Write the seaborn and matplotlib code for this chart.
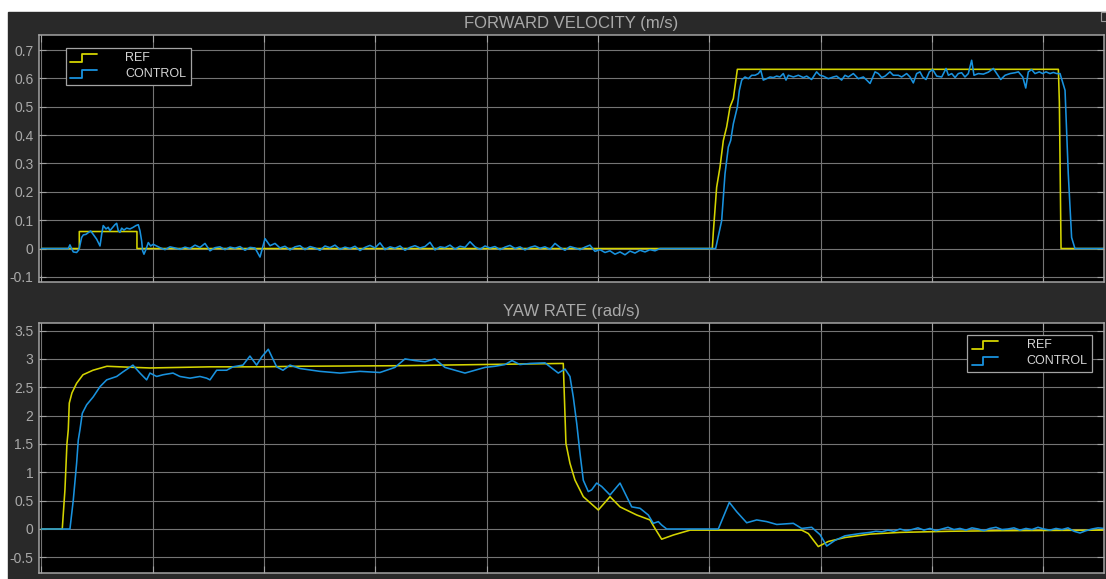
import numpy as np
import pandas as pd
import matplotlib
matplotlib.use("Agg")
import matplotlib.pyplot as plt
import seaborn as sns
from matplotlib.legend_handler import HandlerBase
from matplotlib.lines import Line2D
from matplotlib.patches import Rectangle

# ---------------------------------------------------------------- data
SIGNALS = ["REF", "CONTROL"]
COLORS = {"REF": "#d4d400", "CONTROL": "#1992de"}

# Forward velocity reference (time s, m/s)
vel_ref_t = [0.0, 3.40, 3.40, 8.58, 8.58, 60.27, 60.36, 60.66, 60.96, 61.26,
             61.56, 61.86, 62.16, 62.52, 91.36, 91.45, 91.60, 95.6]
vel_ref_v = [0.0, 0.0, 0.060, 0.060, 0.0, 0.0, 0.057, 0.216, 0.287, 0.381,
             0.429, 0.499, 0.529, 0.632, 0.632, 0.517, 0.0, 0.0]

# Forward velocity measured: first pulse
vel_ctl_a_t = [0.0, 2.29, 2.41, 2.56, 2.71, 2.86, 3.16, 3.37, 3.61, 3.76, 4.00,
               4.20, 4.42, 4.65, 4.96, 5.26, 5.41, 5.55, 5.80, 6.00, 6.15, 6.40,
               6.60, 6.76, 6.90, 7.05, 7.21, 7.41, 7.65, 7.95, 8.25, 8.49, 8.70,
               8.85, 9.00, 9.09, 9.21, 9.36, 9.60, 9.81, 10.04, 10.35]
vel_ctl_a_v = [0.0, 0.0, 0.000, 0.013, 0.000, -0.012, -0.014, -0.004, 0.039,
               0.048, 0.050, 0.056, 0.062, 0.050, 0.033, 0.009, 0.050, 0.081,
               0.069, 0.075, 0.063, 0.075, 0.084, 0.089, 0.063, 0.057, 0.072,
               0.065, 0.072, 0.069, 0.075, 0.081, 0.084, 0.063, 0.027, -0.008,
               -0.020, -0.006, 0.021, 0.009, 0.015, 0.009]

# Forward velocity measured: idle stretch (10.65 s .. 55.57 s)
vel_ctl_idle_start, vel_ctl_idle_end = 10.65, 55.57
vel_ctl_idle_v = [
    0.003, -0.004, 0.006, 0.002, -0.003, 0.005, 0.000, 0.012, 0.004, 0.018,
    -0.008, 0.003, 0.006, -0.004, 0.005, 0.001, 0.007, -0.006, 0.004, 0.002,
    -0.030, 0.035, 0.010, 0.018, 0.002, 0.008, -0.005, 0.006, 0.010, -0.004,
    0.007, 0.002, -0.006, 0.009, 0.003, 0.012, -0.003, 0.005, 0.000, 0.008,
    -0.007, 0.004, 0.011, 0.002, 0.020, -0.004, 0.006, 0.001, 0.009, -0.006,
    0.004, 0.010, 0.002, 0.007, 0.022, -0.005, 0.006, 0.003, 0.012, -0.002,
    0.008, 0.004, 0.024, 0.006, -0.003, 0.009, 0.002, 0.007, -0.004, 0.005,
    0.011, 0.000, 0.006, -0.005, 0.004, 0.009, 0.001, 0.006, -0.003, 0.018,
    0.004, -0.006, 0.007, 0.002, -0.004, 0.005, 0.012, -0.010, -0.004, -0.014,
    -0.008, -0.020, -0.012, -0.022, -0.009, -0.016, -0.006, -0.012, -0.004,
    -0.008, 0.000]

# Forward velocity measured: run
vel_ctl_b_t = [55.75, 60.27, 60.57, 61.11, 61.41, 61.71, 61.92, 62.16, 62.52,
               62.70, 62.91, 63.21, 63.51, 63.81, 64.11, 64.41, 64.62, 64.85,
               65.15, 65.45, 65.75, 66.05, 66.35, 66.65, 66.89, 67.10, 67.55,
               68.00, 68.45, 68.75, 69.19, 69.64, 69.94, 70.24, 70.69, 71.14,
               71.44, 71.89, 72.19, 72.49, 72.94, 73.39, 73.84, 74.14, 74.44,
               74.89, 75.19, 75.49, 75.79, 76.23, 76.53, 76.98, 77.28, 77.73,
               78.03, 78.33, 78.63, 78.93, 79.17, 79.47, 79.77, 80.07, 80.43,
               80.88, 81.27, 81.48, 81.78, 82.08, 82.37, 82.67, 82.97, 83.27,
               83.57, 83.78, 84.17, 84.62, 85.07, 85.52, 85.82, 86.18, 86.57,
               87.02, 87.47, 87.77, 88.16, 88.43, 88.66, 88.96, 89.26, 89.65,
               89.95, 90.25, 90.61, 90.91, 91.21, 91.51, 91.96, 92.25, 92.55,
               92.85, 95.6]
vel_ctl_b_v = [0.0, 0.0, 0.0, 0.098, 0.263, 0.358, 0.381, 0.440, 0.499, 0.558,
               0.594, 0.605, 0.599, 0.611, 0.611, 0.617, 0.629, 0.594, 0.599,
               0.605, 0.603, 0.608, 0.605, 0.617, 0.594, 0.611, 0.605, 0.611,
               0.603, 0.608, 0.596, 0.623, 0.611, 0.608, 0.599, 0.605, 0.608,
               0.594, 0.611, 0.605, 0.617, 0.599, 0.605, 0.594, 0.582, 0.623,
               0.617, 0.603, 0.608, 0.623, 0.611, 0.611, 0.605, 0.617, 0.605,
               0.584, 0.617, 0.623, 0.605, 0.596, 0.623, 0.631, 0.608, 0.605,
               0.635, 0.611, 0.617, 0.603, 0.617, 0.620, 0.605, 0.617, 0.664,
               0.611, 0.617, 0.615, 0.622, 0.635, 0.617, 0.596, 0.611, 0.617,
               0.620, 0.623, 0.605, 0.566, 0.623, 0.631, 0.617, 0.623, 0.617,
               0.623, 0.617, 0.621, 0.617, 0.617, 0.558, 0.264, 0.039, 0.0, 0.0]

# Yaw rate reference (time s, rad/s)
yaw_ref_t = [0.0, 1.87, 2.11, 2.29, 2.41, 2.50, 2.74, 3.16, 3.73, 4.63, 5.88,
             7.05, 9.75, 12.44, 15.13, 19.62, 23.22, 32.20, 39.40, 46.88,
             47.12, 47.48, 47.93, 48.68, 50.03, 51.08, 51.98, 53.48, 54.67,
             55.12, 55.72, 56.77, 58.27, 68.30, 68.90, 69.79, 70.69, 72.19,
             74.43, 77.13, 81.62, 86.12, 95.6]
yaw_ref_v = [0.0, 0.0, 0.69, 1.50, 1.75, 2.22, 2.40, 2.57, 2.72, 2.80, 2.87,
             2.86, 2.84, 2.85, 2.86, 2.86, 2.87, 2.88, 2.90, 2.92,
             1.51, 1.16, 0.864, 0.57, 0.335, 0.57, 0.39, 0.247, 0.16,
             0.01, -0.18, -0.106, -0.02, -0.02, -0.08, -0.31, -0.22, -0.15,
             -0.09, -0.06, -0.04, -0.03, -0.02]

# Yaw rate measured
yaw_ctl_a_t = [0.0, 2.56, 2.86, 3.16, 3.31, 3.46, 3.67, 4.06, 4.65, 5.26, 5.86,
               6.76, 7.32, 8.22, 8.85, 9.45, 9.75, 10.35, 10.92, 11.82, 12.44,
               13.34, 14.24, 14.84, 15.14, 15.74, 16.64, 17.20, 18.10, 18.73,
               19.33, 19.81, 20.38, 21.13, 21.70, 22.33, 23.23, 25.02, 26.82,
               28.61, 30.41, 31.76, 32.66, 33.56, 34.46, 35.35, 36.25, 37.15,
               38.05, 38.95, 39.85, 40.75, 41.64, 42.27, 42.99, 43.89, 45.24,
               46.43, 47.04, 47.48, 47.78, 48.09, 48.38, 48.68, 49.13, 49.43,
               49.88, 50.33, 51.08, 51.98, 52.58, 53.03, 53.78, 54.52, 54.97,
               55.42, 55.72, 56.17, 60.81, 61.80, 62.46, 63.36, 64.26, 65.16,
               66.06, 67.55, 68.30, 69.20, 69.95, 70.55, 71.30, 72.19, 73.54]
yaw_ctl_a_v = [0.0, 0.0, 0.51, 1.16, 1.57, 1.75, 2.04, 2.19, 2.33, 2.51, 2.63,
               2.69, 2.77, 2.89, 2.75, 2.63, 2.75, 2.69, 2.72, 2.75, 2.69,
               2.66, 2.69, 2.66, 2.63, 2.80, 2.80, 2.86, 2.89, 3.05,
               2.89, 3.04, 3.17, 2.86, 2.80, 2.89, 2.83, 2.78, 2.75,
               2.78, 2.76, 2.85, 3.00, 2.97, 2.95, 3.00, 2.85, 2.80,
               2.75, 2.80, 2.85, 2.87, 2.90, 2.97, 2.90, 2.92, 2.93,
               2.75, 2.82, 2.69, 2.33, 1.86, 1.34, 0.86, 0.66, 0.69,
               0.81, 0.75, 0.60, 0.81, 0.57, 0.39, 0.365, 0.247, 0.10,
               0.13, 0.07, 0.0, 0.0, 0.47, 0.305, 0.11, 0.16, 0.13,
               0.08, 0.10, 0.01, 0.03, -0.10, -0.30, -0.20, -0.12, -0.08]

# Yaw rate measured: settling stretch (74.43 s .. 95.46 s)
yaw_ctl_tail_start, yaw_ctl_tail_end = 74.43, 95.46
yaw_ctl_tail_v = [-0.06, -0.04, -0.05, -0.02, -0.04, 0.00, -0.03, -0.01, 0.02,
                  -0.02, 0.01, -0.03, 0.00, 0.03, -0.01, 0.01, -0.02, 0.02,
                  0.00, -0.03, 0.01, 0.03, -0.01, 0.00, 0.02, -0.02, 0.01,
                  -0.01, 0.03, 0.00, -0.02, 0.01, -0.01, 0.02, -0.04, -0.07,
                  -0.03, 0.00, 0.02, 0.01]

VEL_TICKS = [-0.1, 0.0, 0.1, 0.2, 0.3, 0.4, 0.5, 0.6, 0.7]
YAW_TICKS = [-0.5, 0.0, 0.5, 1.0, 1.5, 2.0, 2.5, 3.0, 3.5]
TIME_GRID = list(range(0, 100, 10))
TITLES = ["FORWARD VELOCITY (m/s)", "YAW RATE (rad/s)"]


def frame(t, v, name):
    return pd.DataFrame({"t": t, "value": v, "signal": name})


vel_ctl_t = (vel_ctl_a_t
             + list(np.linspace(vel_ctl_idle_start, vel_ctl_idle_end, len(vel_ctl_idle_v)))
             + vel_ctl_b_t)
vel_ctl_v = vel_ctl_a_v + vel_ctl_idle_v + vel_ctl_b_v
yaw_ctl_t = (yaw_ctl_a_t
             + list(np.linspace(yaw_ctl_tail_start, yaw_ctl_tail_end, len(yaw_ctl_tail_v))))
yaw_ctl_v = yaw_ctl_a_v + yaw_ctl_tail_v

vel_df = pd.concat([frame(vel_ref_t, vel_ref_v, "REF"),
                    frame(vel_ctl_t, vel_ctl_v, "CONTROL")], ignore_index=True)
yaw_df = pd.concat([frame(yaw_ref_t, yaw_ref_v, "REF"),
                    frame(yaw_ctl_t, yaw_ctl_v, "CONTROL")], ignore_index=True)

# ---------------------------------------------------------------- style
sns.set_theme(style="dark")
plt.rcParams["font.family"] = ["Liberation Sans", "DejaVu Sans"]
plt.rcParams["axes.unicode_minus"] = False

TEXT = "#a9a9a9"
EDGE = "#a3a3a3"
GRID = "#747474"
PANEL = "#292929"


class StepHandler(HandlerBase):
    """Legend key drawn as a small rising step."""

    def create_artists(self, legend, orig_handle, xdescent, ydescent,
                       width, height, fontsize, trans):
        x0, y0 = -xdescent, -ydescent
        xm = x0 + 0.45 * width
        lo, hi = y0 - 0.05 * height, y0 + 0.85 * height
        line = Line2D([x0, xm, xm, x0 + width], [lo, lo, hi, hi],
                      color=orig_handle.get_color(),
                      lw=orig_handle.get_linewidth(), transform=trans)
        return [line]


fig = plt.figure(figsize=(11.06, 5.79), dpi=100, facecolor="white")
fig.patches.append(Rectangle((8 / 1106, 0), 1 - 8 / 1106, 1 - 12 / 579,
                             transform=fig.transFigure, color=PANEL, zorder=-10))
fig.patches.append(Rectangle((1101 / 1106, 1 - 21 / 579), 6 / 1106, 9 / 579,
                             transform=fig.transFigure, facecolor="none",
                             edgecolor="#9a9a9a", lw=0.8, zorder=-5))

left, width = 39 / 1106, (1104 - 39) / 1106
ax_vel = fig.add_axes([left, 1 - 282 / 579, width, (282 - 35) / 579])
ax_yaw = fig.add_axes([left, 1 - 573 / 579, width, (573 - 323) / 579])

panels = [
    (ax_vel, vel_df, VEL_TICKS, (-0.118, 0.753), "upper left", (0.0254, 0.947)),
    (ax_yaw, yaw_df, YAW_TICKS, (-0.776, 3.633), "upper right", (0.9887, 0.952)),
]

for (ax, df, yticks, ylim, loc, anchor), title in zip(panels, TITLES):
    ax.set_facecolor("black")
    sns.lineplot(data=df, x="t", y="value", hue="signal", hue_order=SIGNALS,
                 palette=COLORS, estimator=None, sort=False, lw=1.15,
                 legend=False, ax=ax)
    ax.set_xlim(-0.22, 95.46)
    ax.set_ylim(*ylim)
    ax.set_xticks(TIME_GRID)
    ax.set_xticklabels([])
    ax.set_yticks(yticks)
    ax.set_yticklabels([f"{v:g}" for v in yticks])
    ax.set_xlabel("")
    ax.set_ylabel("")
    ax.grid(True, color=GRID, lw=0.8)
    ax.set_axisbelow(True)
    ax.tick_params(axis="both", direction="in", length=5, width=0.8,
                   color=EDGE, top=True, right=True, bottom=True, left=True,
                   labelsize=10, labelcolor=TEXT, pad=4)
    for sp in ax.spines.values():
        sp.set_visible(True)
        sp.set_color(EDGE)
        sp.set_linewidth(1.1)
    ax.set_title(title, color=TEXT, fontsize=12, pad=5)

    handles = [Line2D([], [], color=COLORS[s], lw=1.3) for s in SIGNALS]
    leg = ax.legend(handles, SIGNALS, loc=loc, bbox_to_anchor=anchor,
                    borderaxespad=0, frameon=True, fancybox=False,
                    facecolor="black", edgecolor=EDGE, framealpha=1,
                    fontsize=9, labelcolor="#d6d6d6", handlelength=2.1,
                    handletextpad=2.3, borderpad=0.35, labelspacing=0.3,
                    handler_map={Line2D: StepHandler()})
    leg.get_frame().set_linewidth(0.9)

fig.savefig("out.png", dpi=100, facecolor=fig.get_facecolor())
